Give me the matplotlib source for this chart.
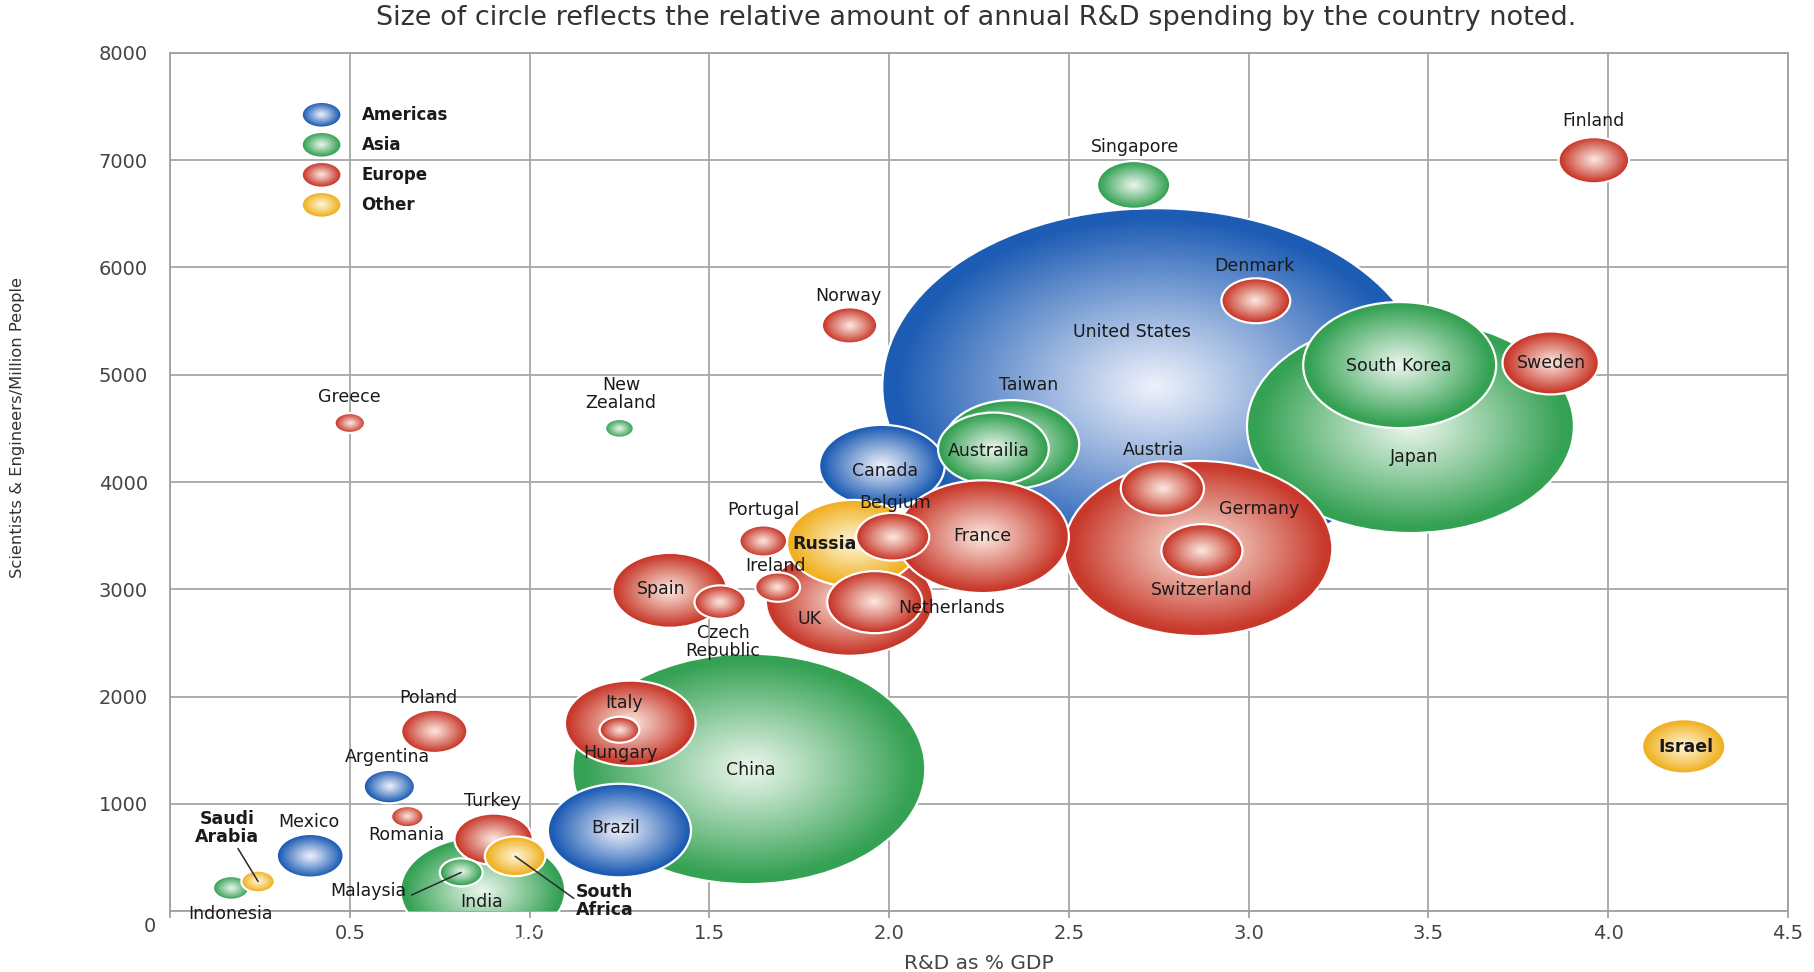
import numpy as np
import matplotlib
matplotlib.use('Agg')
import matplotlib.pyplot as plt
from matplotlib.patches import Ellipse
from matplotlib.colors import to_rgb

# country data, listed in drawing order (first = bottom)
countries = ['United States', 'Japan', 'China', 'India', 'Germany', 'Canada', 'Taiwan',
             'Austrailia', 'UK', 'Russia', 'France', 'Netherlands', 'Belgium', 'Spain',
             'Italy', 'Brazil', 'South Korea', 'Turkey', 'South Africa', 'Sweden', 'Denmark',
             'Singapore', 'Finland', 'Norway', 'Greece', 'New Zealand', 'Austria',
             'Switzerland', 'Portugal', 'Ireland', 'Czech Republic', 'Poland', 'Hungary',
             'Argentina', 'Romania', 'Mexico', 'Malaysia', 'Indonesia', 'Saudi Arabia', 'Israel']
regions = ['Americas', 'Asia', 'Asia', 'Asia', 'Europe', 'Americas', 'Asia',
           'Asia', 'Europe', 'Other', 'Europe', 'Europe', 'Europe', 'Europe',
           'Europe', 'Americas', 'Asia', 'Europe', 'Other', 'Europe', 'Europe',
           'Asia', 'Europe', 'Europe', 'Europe', 'Asia', 'Europe',
           'Europe', 'Europe', 'Europe', 'Europe', 'Europe', 'Europe',
           'Americas', 'Europe', 'Americas', 'Asia', 'Asia', 'Other', 'Other']
rd_pct_gdp = [2.74, 3.45, 1.61, 0.87, 2.86, 1.98, 2.34,
              2.29, 1.89, 1.90, 2.26, 1.96, 2.01, 1.39,
              1.28, 1.25, 3.42, 0.90, 0.96, 3.84, 3.02,
              2.68, 3.96, 1.89, 0.50, 1.25, 2.76,
              2.87, 1.65, 1.69, 1.53, 0.735, 1.25,
              0.61, 0.66, 0.39, 0.81, 0.17, 0.245, 4.21]
sci_per_million = [4890, 4520, 1325, 190, 3380, 4150, 4350,
                   4310, 2890, 3430, 3490, 2880, 3490, 2990,
                   1750, 750, 5090, 670, 510, 5110, 5690,
                   6770, 7000, 5460, 4550, 4500, 3940,
                   3360, 3450, 3020, 2880, 1675, 1690,
                   1160, 880, 515, 360, 215, 275, 1535]
# annual R&D spending, $ billions (bubble area)
rd_spend = [340, 122, 142, 31, 82, 18, 21,
            14, 32, 20, 34, 10.3, 6.1, 15,
            19.5, 23.4, 42.5, 7.0, 4.2, 10.6, 5.4,
            6.1, 5.7, 3.5, 1.06, 0.94, 7.9,
            7.5, 2.6, 2.3, 3.0, 5.0, 1.8,
            3.0, 1.2, 5.1, 2.1, 1.5, 1.27, 7.9]

# label placement (data coords)
label_x = [2.676, 3.459, 1.615, 0.867, 3.03, 1.989, 2.389,
           2.276, 1.779, 1.821, 2.26, 2.173, 2.018, 1.367,
           1.264, 1.238, 3.417, 0.896, 1.209, 3.843, 3.017,
           2.685, 3.959, 1.886, 0.50, 1.254, 2.737,
           2.869, 1.651, 1.683, 1.538, 0.719, 1.254,
           0.606, 0.658, 0.387, 0.551, 0.168, 0.158, 4.217]
label_y = [5400, 4233, 1317, 86, 3747, 4104, 4903,
           4287, 2721, 3423, 3499, 2829, 3801, 3002,
           1944, 778, 5086, 1026, 97, 5108, 6015,
           7127, 7365, 5734, 4795, 4816, 4298,
           2991, 3737, 3218, 2505, 1987, 1469,
           1436, 713, 832, 184, -32, 778, 1533]
two_line = {'New Zealand': 'New\nZealand', 'Czech Republic': 'Czech\nRepublic',
            'Saudi Arabia': 'Saudi\nArabia', 'South Africa': 'South\nAfrica'}
bold_names = ['Russia', 'Saudi Arabia', 'South Africa', 'Israel']
# leader lines: label end -> bubble
leaders = {'Saudi Arabia': (0.189, 583), 'Malaysia': (0.672, 149), 'South Africa': (1.123, 118)}

legend_regions = ['Americas', 'Asia', 'Europe', 'Other']
# rim colour, highlight colour
palette = {'Americas': ('#1d5cb4', '#eef1fb'),
           'Asia': ('#34a153', '#eaf6ec'),
           'Europe': ('#c8392b', '#fbe8df'),
           'Other': ('#f0b020', '#fff6da')}

W, H, DPI = 18.15, 9.72, 100
X_MAX, Y_MAX = 4.5, 8000
ASPECT = 1.53      # bubble width / height on screen
PX_PER_ROOT = 29.6  # bubble width in px per sqrt($B)

fig = plt.figure(figsize=(W, H), dpi=DPI)
ax = fig.add_axes([170 / 1815, 1 - 911 / 972, 1618 / 1815, 858 / 972])
ax_w_px = 1618
ax_h_px = 858
px_x = ax_w_px / X_MAX
px_y = ax_h_px / Y_MAX


def shade(rim, core, n=180):
    yy, xx = np.mgrid[-1:1:n * 1j, -1:1:n * 1j]
    r = np.clip(np.hypot(xx, yy), 0, 1)
    f = np.clip(r ** 1.05 * 1.06, 0, 1)[..., None]
    return (1 - f) * np.array(to_rgb(core)) + f * np.array(to_rgb(rim))


def bubble(x, y, w, h, region, z, lw=1.6):
    rim, core = palette[region]
    outline = Ellipse((x, y), w, h, facecolor='none', edgecolor='white', lw=lw, zorder=z + 0.001)
    ax.add_patch(outline)
    outline.set_clip_on(False)
    ax.imshow(shade(rim, core), extent=[x - w / 2, x + w / 2, y - h / 2, y + h / 2],
              origin='lower', interpolation='bilinear', aspect='auto', zorder=z,
              clip_path=outline)


for i, (name, reg, x, y, s) in enumerate(zip(countries, regions, rd_pct_gdp, sci_per_million, rd_spend)):
    d_px = PX_PER_ROOT * np.sqrt(s)
    bubble(x, y, d_px / px_x, d_px / ASPECT / px_y, reg, 5 + i * 0.01)

for name, lx, ly, x, y in zip(countries, label_x, label_y, rd_pct_gdp, sci_per_million):
    ax.text(lx, ly, two_line.get(name, name), ha='center', va='center', fontsize=12.5,
            color='#1a1a1a', linespacing=1.0, zorder=60,
            fontweight='bold' if name in bold_names else 'normal')
    if name in leaders:
        ax.annotate('', xy=(x, y), xytext=leaders[name],
                    arrowprops=dict(arrowstyle='-', color='#2a2a2a', lw=1.1,
                                    shrinkA=0, shrinkB=0), zorder=55)

# legend
leg_x = 0.0937 * X_MAX
leg_y0 = 0.928 * Y_MAX
leg_step = 0.035 * Y_MAX
for k, reg in enumerate(legend_regions):
    ly = leg_y0 - k * leg_step
    bubble(leg_x, ly, 39 / px_x, 25 / px_y, reg, 5, lw=1.0)
    ax.text(leg_x + 40 / px_x, ly, reg, ha='left', va='center', fontsize=12,
            fontweight='bold', color='#1a1a1a', zorder=60)

ax.set_xlim(0, X_MAX)
ax.set_ylim(0, Y_MAX)
ax.set_xticks(np.arange(0, 4.51, 0.5))
ax.set_xticklabels([''] + ['%.1f' % v for v in np.arange(0.5, 4.51, 0.5)])
ax.set_yticks(np.arange(0, 8001, 1000))
ax.set_yticklabels([''] + [str(v) for v in range(1000, 8001, 1000)])
ax.text(-0.0122, -0.0175, '0', transform=ax.transAxes, ha='center', va='center',
        fontsize=14, color='#444444')
ax.tick_params(axis='x', length=5, width=1.2, color='#9a9a9a', labelsize=14,
               labelcolor='#444444', pad=4)
ax.tick_params(axis='y', length=0, labelsize=14, labelcolor='#444444', pad=16)
ax.grid(True, color='#a6a6a6', lw=1.3)
ax.set_axisbelow(True)
for sp in ax.spines.values():
    sp.set_color('#a0a0a0')
    sp.set_linewidth(1.3)

ax.set_xlabel('R&D as % GDP', fontsize=14.5, color='#444444', labelpad=8)
ax.set_ylabel('Scientists & Engineers/Million People', fontsize=11.8, color='#333333')
ax.yaxis.set_label_coords(-0.0896, 0.563)
fig.text(0.538, 0.981, 'Size of circle reflects the relative amount of annual R&D spending by the country noted.',
         ha='center', va='center', fontsize=19.5, color='#333333')

fig.savefig('out.png', dpi=DPI)
